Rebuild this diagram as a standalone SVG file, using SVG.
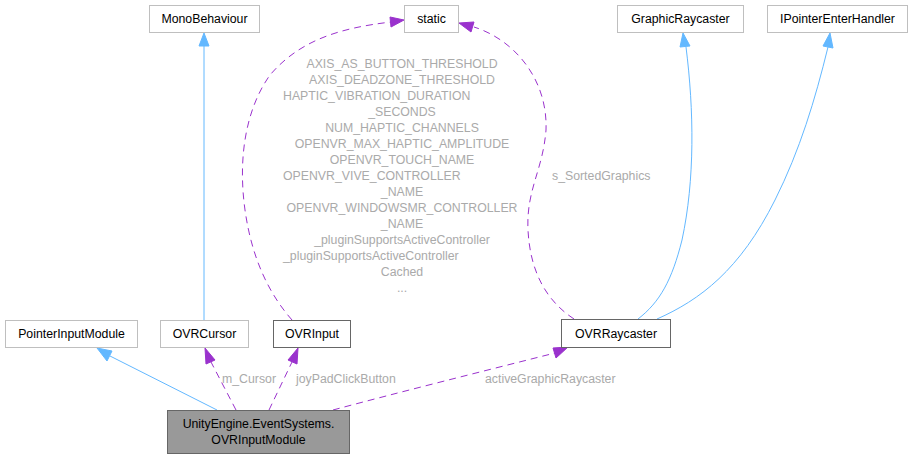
<svg xmlns="http://www.w3.org/2000/svg" width="912" height="459" viewBox="0 0 912 459">
<style>
text{font-family:"Liberation Sans",Arial,sans-serif;font-size:12.3px}
.n rect{fill:#fff;stroke:#bfbfbf;stroke-width:1}
.n.d rect{stroke:#666}
.n text{fill:#000;text-anchor:middle}
.b{fill:none;stroke:#63b8ff;stroke-width:1}
.p{fill:none;stroke:#9a32cd;stroke-width:1;stroke-dasharray:7,5}
.ab{fill:#63b8ff;stroke:#63b8ff}
.ap{fill:#9a32cd;stroke:#9a32cd}
.l{fill:#aaaaaa}
.lc{fill:#aaaaaa;text-anchor:middle}
</style>
<rect width="912" height="459" fill="#fff"/>
<g id="connectors">
<path class="b" d="M217,410 L110,356"/>
<polygon class="ab" points="97,348 112,351 107,361"/>
<path class="b" d="M204,320 L204,46"/>
<polygon class="ab" points="204,33 199,46 209,46"/>
<path class="p" d="M236,410 L211,362"/>
<polygon class="ap" points="205,348 206,364 215,360"/>
<path class="p" d="M269,410 L292,362"/>
<polygon class="ap" points="298,348 288,360 297,364"/>
<path class="p" d="M333,410 C400,392 480,372 555,353"/>
<polygon class="ap" points="568,347 553,348 556,358"/>
<path class="p" d="M292,320 C270,295 252,260 245,210 C238,160 245,110 270,75 C300,40 340,28 391,22"/>
<polygon class="ap" points="404,20 390,17 391,27"/>
<path class="p" d="M574,319 C545,300 530,270 528,230 C526,190 543,170 546,130 C548,80 515,40 474,27"/>
<polygon class="ap" points="459,23 474,22 471,32"/>
<path class="b" d="M638,319 C660,302 672,280 682,240 C695,180 694,110 686,47"/>
<polygon class="ab" points="683,33 680,47 690,46"/>
<path class="b" d="M657,319 C700,300 740,270 775,200 C800,150 815,100 828,47"/>
<polygon class="ab" points="830,33 823,46 833,48"/>
<text class="l" x="222" y="383">m_Cursor</text>
<text class="l" x="296" y="383">joyPadClickButton</text>
<text class="l" x="485" y="383">activeGraphicRaycaster</text>
<text class="l" x="552" y="180">s_SortedGraphics</text>
<text class="lc" x="402" y="68">AXIS_AS_BUTTON_THRESHOLD</text>
<text class="lc" x="402" y="84">AXIS_DEADZONE_THRESHOLD</text>
<text class="l" x="283" y="100">HAPTIC_VIBRATION_DURATION</text>
<text class="lc" x="402" y="116">_SECONDS</text>
<text class="lc" x="402" y="132">NUM_HAPTIC_CHANNELS</text>
<text class="lc" x="402" y="148">OPENVR_MAX_HAPTIC_AMPLITUDE</text>
<text class="lc" x="402" y="164">OPENVR_TOUCH_NAME</text>
<text class="l" x="283" y="180">OPENVR_VIVE_CONTROLLER</text>
<text class="lc" x="402" y="196">_NAME</text>
<text class="lc" x="402" y="212">OPENVR_WINDOWSMR_CONTROLLER</text>
<text class="lc" x="402" y="228">_NAME</text>
<text class="lc" x="402" y="244">_pluginSupportsActiveController</text>
<text class="l" x="283" y="260">_pluginSupportsActiveController</text>
<text class="lc" x="402" y="276">Cached</text>
<text class="lc" x="402" y="292">...</text>
</g>
<g id="MonoBehaviour" class="n"><rect x="149.5" y="5.5" width="110" height="27"/><text x="204.5" y="23">MonoBehaviour</text></g>
<g id="static" class="n"><rect x="404.5" y="5.5" width="54" height="27"/><text x="431.5" y="23">static</text></g>
<g id="GraphicRaycaster" class="n"><rect x="617.5" y="5.5" width="126" height="27"/><text x="680.5" y="23">GraphicRaycaster</text></g>
<g id="IPointerEnterHandler" class="n"><rect x="767.5" y="5.5" width="140" height="27"/><text x="837.5" y="23">IPointerEnterHandler</text></g>
<g id="PointerInputModule" class="n"><rect x="5.5" y="320.5" width="132" height="27"/><text x="71.5" y="338">PointerInputModule</text></g>
<g id="OVRCursor" class="n"><rect x="160.5" y="320.5" width="88" height="27"/><text x="204.5" y="338">OVRCursor</text></g>
<g id="OVRInput" class="n d"><rect x="273.5" y="320.5" width="77" height="27"/><text x="312" y="338">OVRInput</text></g>
<g id="OVRRaycaster" class="n d"><rect x="561.5" y="319.5" width="109" height="28"/><text x="616" y="338">OVRRaycaster</text></g>
<g id="OVRInputModule" class="n d"><rect x="167.5" y="410.5" width="182" height="43" style="fill:#999"/><text x="258.5" y="428">UnityEngine.EventSystems.</text><text x="258.5" y="444">OVRInputModule</text></g>
</svg>
